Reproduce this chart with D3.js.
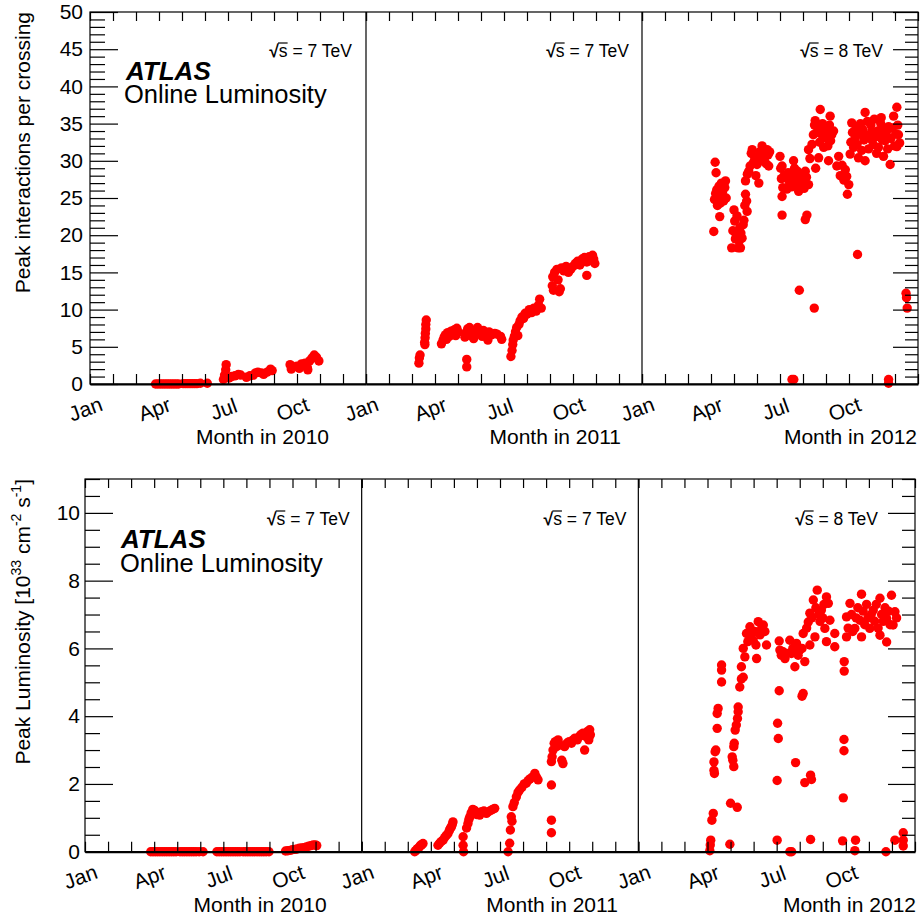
<!DOCTYPE html>
<html><head><meta charset="utf-8">
<script src="https://cdn.jsdelivr.net/npm/d3@7"></script>
<style>body{margin:0;background:#fff} svg{display:block} text{font-family:"Liberation Sans",Arial,Helvetica,sans-serif;fill:#000}</style>
</head><body><svg id="c" width="924" height="919"></svg>
<script>
const years = [2010, 2011, 2012];
const energies = ["7", "7", "8"];
const monthTickValues = d3.range(0, 13);
const monthLabelTicks = [0, 3, 6, 9];
const monthLabels = ["Jan", "Apr", "Jul", "Oct"];
const muTicks = [0, 5, 10, 15, 20, 25, 30, 35, 40, 45, 50];
const lumiTicks = [0, 2, 4, 6, 8, 10];

// [month (0 = Jan 1), peak interactions per crossing]
const mu2010 = [[2.85,0],[2.95,0],[3.05,0],[3.15,0],[3.25,0],[3.35,0],[3.45,0],[3.55,0],[3.65,0],[3.75,0],[3.85,0],[4.05,0.05],[4.15,0.05],[4.25,0.05],[4.35,0.05],[4.45,0.05],[4.55,0.05],[4.65,0.05],[4.8,0.1],[5.1,0.1],
[5.8,0.6],[5.85,1.2],[5.9,1.9],[5.92,2.6],[5.95,0.9],[6.05,0.8],[6.15,1.0],[6.3,1.1],[6.45,1.3],[6.55,1.2],[6.8,0.9],[6.95,1.1],[7.1,1.2],[7.2,1.5],[7.3,1.6],[7.45,1.5],[7.55,1.3],[7.7,1.6],[7.85,2.0],[7.92,1.8],
[8.7,2.6],[8.75,2.0],[8.85,2.3],[9.0,2.4],[9.1,2.1],[9.2,2.7],[9.35,2.8],[9.45,2.2],[9.47,1.9],[9.55,3.1],[9.65,3.5],[9.75,3.9],[9.85,3.6],[9.95,3.1]];
const mu2011 = [[2.3,2.8],[2.32,3.5],[2.35,3.9],
[2.55,5.6],[2.57,6.2],[2.58,6.8],[2.6,7.4],[2.6,8.0],[2.62,8.6],[2.56,5.3],
[3.28,5.4],[3.35,5.9],[3.4,6.3],[3.45,6.6],[3.5,6.0],[3.55,6.9],[3.62,6.4],[3.7,7.1],[3.78,6.7],[3.85,7.3],[3.9,6.5],[3.95,7.5],[4.0,7.0],
[4.3,6.3],[4.35,6.9],[4.42,7.4],[4.5,7.6],[4.55,6.5],[4.6,7.2],[4.68,6.1],[4.72,7.0],[4.38,3.3],[4.38,2.3],
[4.85,7.6],[4.95,6.8],[5.05,6.4],[5.1,7.2],[5.2,6.9],[5.3,5.9],[5.35,7.0],[5.45,6.6],[5.6,6.8],[5.7,6.7],[5.85,6.4],[5.9,6.0],
[6.3,3.7],[6.35,4.5],[6.38,5.3],[6.4,5.9],[6.45,6.4],[6.5,7.0],[6.55,7.6],[6.6,6.5],[6.65,8.0],[6.7,8.5],[6.78,9.0],[6.85,8.8],[6.92,9.5],[7.0,9.4],[7.1,10.0],[7.2,9.6],[7.3,10.2],[7.4,9.8],[7.5,10.6],[7.55,11.4],[7.62,10.2],
[8.1,13.2],[8.12,14.4],[8.15,12.6],[8.2,15.0],[8.3,15.4],[8.35,14.0],[8.4,12.4],[8.45,12.8],[8.5,15.6],[8.6,15.2],[8.7,15.8],[8.8,15.0],[8.9,15.4],[9.0,15.8],[9.1,16.2],[9.2,16.5],[9.3,16.0],[9.4,16.8],[9.5,17.0],[9.6,16.4],[9.7,17.1],[9.75,16.6],[9.85,17.3],[9.9,16.8],[9.95,16.2],[9.6,14.6]];
const mu2012 = [[3.12,20.5],[3.15,24.8],[3.18,29.8],[3.2,25.6],[3.22,28.4],[3.25,26.1],[3.28,24.0],[3.3,25.2],[3.35,26.6],[3.38,22.5],[3.4,24.3],[3.45,27.0],[3.5,25.8],[3.55,24.6],[3.6,26.4],[3.63,27.3],[3.66,25.0],
[3.9,18.3],[3.95,20.6],[4.0,23.4],[4.03,21.9],[4.06,19.5],[4.1,20.1],[4.13,22.6],[4.18,18.3],[4.22,19.2],[4.25,21.0],[4.28,18.3],[4.3,20.3],[4.35,19.6],[4.4,21.4],[4.43,22.0],[4.47,24.0],[4.5,25.5],[4.55,24.6],[4.57,23.2],
[4.5,27.3],[4.58,28.2],[4.64,28.6],[4.7,29.3],[4.75,31.0],[4.79,31.5],[4.85,29.8],[4.9,30.4],[4.95,28.0],[5.0,29.5],[5.05,30.6],[5.08,27.0],[5.12,31.2],[5.18,30.0],[5.22,32.0],[5.28,31.0],[5.35,30.5],[5.4,29.6],[5.44,31.5],[5.48,30.8],[5.51,29.3],[5.55,31.2],
[6.0,30.6],[6.03,29.0],[6.06,27.6],[6.09,29.3],[6.12,26.4],[6.18,28.0],[6.23,27.7],[6.3,26.2],[6.35,28.4],[6.42,27.0],[6.5,26.5],[6.55,28.0],[6.59,30.0],[6.63,29.0],[6.66,26.8],[6.72,27.4],[6.76,28.6],[6.81,25.9],[6.88,27.0],[6.93,28.2],[7.0,27.5],[7.05,26.3],[7.1,28.6],[7.15,27.8],[7.24,26.8],[6.09,25.2],[6.09,22.7],[7.1,22.1],[7.17,22.7],
[7.24,31.5],[7.3,30.3],[7.39,32.2],[7.45,33.5],[7.5,34.8],[7.53,35.4],[7.6,33.8],[7.68,34.5],[7.72,32.5],[7.75,36.9],[7.8,33.6],[7.85,35.0],[7.9,31.8],[7.97,33.1],[8.02,34.2],[8.08,32.0],[8.11,30.0],[8.15,34.8],[8.18,36.0],[8.2,32.7],[8.25,33.5],[8.33,34.0],[7.68,30.4],[7.55,29.0],
[8.47,29.3],[8.55,30.6],[8.62,28.0],[8.7,29.4],[8.78,27.4],[8.84,28.8],[8.9,27.9],[8.93,25.5],[8.99,26.8],
[9.05,30.9],[9.08,32.5],[9.12,35.1],[9.15,33.8],[9.2,31.8],[9.27,33.1],[9.3,34.6],[9.35,32.2],[9.41,30.4],[9.45,33.6],[9.5,35.0],[9.55,31.4],[9.6,34.2],[9.65,32.8],[9.7,36.5],[9.7,30.0],[9.75,33.4],[9.8,35.3],[9.85,31.6],[9.9,33.0],[9.95,34.8],[9.99,34.0],[10.05,32.2],[10.1,35.6],[10.15,33.2],[10.2,31.0],[10.25,34.0],[10.28,31.8],[10.32,33.5],[10.38,35.0],[10.4,35.8],[10.45,32.8],[10.5,30.6],[10.55,34.2],[10.57,32.7],[10.62,33.8],[10.68,31.6],[10.72,34.6],[10.79,29.5],[10.82,33.0],[10.88,34.4],[10.94,36.0],[10.98,32.0],[11.03,33.6],[11.08,37.2],[11.08,31.9],[11.12,34.8],[11.15,33.5],[11.2,32.4],
[9.37,17.4],[6.84,12.6],[7.49,10.2],[11.48,12.2],[11.5,11.6],[11.53,10.2],[6.52,0.6],[6.6,0.6],[10.72,0.6],[10.72,0.1]];

// [month, peak luminosity in 1e33 cm^-2 s^-1]
const lumi2010 = [[2.85,0],[2.95,0],[3.05,0],[3.15,0],[3.25,0],[3.35,0],[3.45,0],[3.55,0],[3.65,0],[3.75,0],[3.85,0],[3.95,0],[4.12,0],[4.22,0],[4.32,0],[4.42,0],[4.52,0],[4.62,0],[4.72,0],[4.82,0],[4.95,0],[5.12,0],
[5.72,0],[5.82,0],[5.92,0],[6.02,0],[6.12,0],[6.22,0],[6.32,0],[6.42,0],[6.52,0],[6.62,0],[6.72,0],[6.86,0],[6.96,0],[7.06,0],[7.16,0],[7.26,0],[7.36,0],[7.46,0],[7.56,0],[7.66,0],[7.76,0],[7.86,0],[7.98,0],
[8.7,0.02],[8.8,0.03],[8.9,0.04],[9.0,0.06],[9.1,0.07],[9.2,0.08],[9.3,0.1],[9.4,0.11],[9.5,0.12],[9.6,0.14],[9.7,0.16],[9.8,0.18],[9.9,0.2],[10.0,0.2],[10.05,0.18]];
const lumi2011 = [[2.3,0],[2.35,0.03],[2.4,0.08],[2.44,0.09],[2.5,0.14],[2.55,0.19],[2.59,0.19],[2.66,0.24],
[3.31,0.19],[3.38,0.25],[3.45,0.3],[3.53,0.34],[3.6,0.42],[3.67,0.48],[3.74,0.53],[3.8,0.62],[3.85,0.7],[3.89,0.73],[3.93,0.8],[3.96,0.88],
[4.4,0.44],[4.4,0.19],[4.42,0.0],
[4.55,0.7],[4.61,0.83],[4.65,0.95],[4.69,1.03],[4.75,1.15],[4.82,1.25],[4.9,1.22],[4.98,1.1],[5.05,1.15],[5.12,1.08],[5.2,1.18],[5.3,1.2],[5.41,1.13],[5.5,1.18],[5.6,1.22],[5.68,1.25],[5.77,1.28],
[6.35,0.0],[6.42,0.25],[6.45,0.64],[6.49,1.03],[6.52,0.9],[6.56,1.33],[6.62,1.45],[6.71,1.62],[6.78,1.75],[6.85,1.82],[6.95,1.9],[7.05,2.0],[7.14,2.02],[7.22,2.1],[7.3,2.15],[7.4,2.2],[7.51,2.31],[7.58,2.2],[7.65,2.12],
[8.23,1.97],[8.23,0.93],[8.23,0.56],
[8.23,2.66],[8.26,2.8],[8.3,3.0],[8.35,3.2],[8.4,3.25],[8.45,3.1],[8.52,3.3],[8.6,3.15],[8.68,2.7],[8.73,2.6],[8.8,3.1],[8.9,3.2],[9.0,3.25],[9.1,3.2],[9.17,3.3],[9.25,3.35],[9.35,3.3],[9.45,3.4],[9.5,3.45],[9.6,3.5],[9.67,3.0],[9.72,3.4],[9.8,3.55],[9.89,3.6],[9.92,3.45],[9.85,3.3]];
const lumi2012 = [[3.1,0.03],[3.12,0.2],[3.14,0.34],[3.19,0.93],[3.25,1.13],[3.28,2.4],[3.3,2.31],[3.28,2.65],[3.33,2.95],[3.36,3.0],[3.42,3.64],[3.42,4.08],[3.46,4.23],[3.61,5.51],[3.61,5.36],[3.61,5.01],
[3.97,0.22],[4.0,1.43],[4.29,1.31],[4.07,2.8],[4.1,2.7],[4.14,2.51],[4.14,3.1],[4.16,3.2],[4.2,3.59],[4.25,3.74],[4.3,3.93],[4.33,4.13],[4.33,4.27],[4.4,4.86],[4.47,5.1],[4.55,5.15],[4.47,5.46],
[4.55,6.0],[4.62,5.75],[4.69,6.44],[4.75,6.2],[4.84,6.64],[4.9,6.4],[4.98,6.24],[5.05,6.5],[5.13,5.7],[5.2,6.79],[5.28,6.4],[5.35,6.6],[5.42,6.69],[5.49,6.5],[5.56,6.1],[5.1,6.1],
[6.11,6.22],[6.14,5.95],[6.2,5.8],[6.28,5.9],[6.36,5.7],[6.45,5.85],[6.57,6.24],[6.64,5.85],[6.7,6.0],[6.79,5.46],[6.86,6.15],[6.93,5.8],[7.0,5.95],[7.1,6.0],[7.22,5.61],
[6.11,4.75],[7.15,4.67],[7.1,4.59],[6.04,3.79],[6.07,3.34],[6.02,2.1],[6.02,0.34],[6.57,0.0],[6.65,0.0],[6.82,2.63],[7.22,2.04],[7.47,2.26],[7.51,2.13],[7.47,0.36],
[7.15,6.44],[7.3,6.6],[7.37,6.78],[7.44,7.04],[7.44,6.1],[7.52,6.9],[7.59,7.43],[7.66,6.34],[7.7,7.2],[7.76,7.72],[7.82,7.0],[7.88,6.8],[7.94,7.13],[8.0,6.9],[8.05,7.3],[8.09,6.59],[8.16,7.52],[8.16,6.2],[8.24,7.33],[8.31,6.83],[8.52,6.44],[8.52,6.05],
[8.93,5.61],[8.93,5.33],[8.92,3.31],[8.92,2.98],[8.89,1.59],[8.86,0.32],[9.42,0.34],[9.39,0.03],
[9.03,6.34],[9.03,6.93],[9.1,6.6],[9.18,7.33],[9.25,7.0],[9.3,6.5],[9.39,6.59],[9.45,6.9],[9.52,7.2],[9.61,6.83],[9.68,7.6],[9.68,6.34],[9.75,7.1],[9.82,6.7],[9.9,7.3],[9.96,6.9],[10.04,6.59],[10.1,7.0],[10.19,7.13],[10.25,6.8],[10.32,7.3],[10.4,6.6],[10.48,7.48],[10.48,6.39],[10.55,7.0],[10.62,6.8],[10.7,7.2],[10.77,6.88],[10.77,6.19],[10.85,7.1],[10.92,6.7],[10.98,7.57],[11.05,6.69],[11.13,7.08],[11.2,6.9],
[10.74,0.0],[11.13,0.34],[11.49,0.56],[11.49,0.34],[11.49,0.17]];

const muData = [mu2010, mu2011, mu2012];
const lumiData = [lumi2010, lumi2011, lumi2012];

const svg = d3.select("#c");

const panels = [
  {data: muData, top: 12, bottom: 384, left: 90, right: 918, yMax: 50, major: muTicks, minorStep: 1,
   majLen: 28, minLen: 15, rMajLen: 25, rMinLen: 13, labPad: 7,
   monthOff: [-37, -21, -1], monthY: 444, srtY: 57, srtIn: [14, 13, 35],
   atlas: [126, 80], online: [124, 103], ytitle: "mu"},
  {data: lumiData, top: 479, bottom: 851.7, left: 85, right: 915, yMax: 11, major: lumiTicks, minorStep: 0.5,
   majLen: 28, minLen: 15, rMajLen: 27, rMinLen: 13, labPad: 5,
   monthOff: [-35, -20.5, 1], monthY: 912, srtY: 525, srtIn: [12, 12, 37],
   atlas: [121, 548], online: [120, 572], ytitle: "lumi"}
];

function sqrtLabel(g, xRight, yBase, energy) {
  const t = g.append("text").attr("x", xRight).attr("y", yBase)
    .attr("text-anchor", "end").style("font-size", "17.5px");
  t.append("tspan").style("font-weight", "bold").text("\u221A");
  t.append("tspan").text("s");
  t.append("tspan").text(" = " + energy + " TeV");
  const node = t.node();
  const bb = node.getBBox();
  const w0 = node.getSubStringLength(0, 1);
  const w1 = node.getSubStringLength(1, 1);
  const x0 = bb.x + w0 - 0.8;
  g.append("line").attr("x1", x0).attr("x2", x0 + w1 + 0.8)
    .attr("y1", yBase - 14).attr("y2", yBase - 14)
    .attr("stroke", "#000").attr("stroke-width", 1.2);
}

panels.forEach(P => {
  const g = svg.append("g");
  const y = d3.scaleLinear().domain([0, P.yMax]).range([P.bottom, P.top]);
  const w = (P.right - P.left) / 3;
  const minor = d3.range(0, P.yMax + 1e-9, P.minorStep).filter(v => !P.major.includes(v));

  // points
  years.forEach((yr, i) => {
    const x0 = P.left + i * w;
    const x = d3.scaleLinear().domain([0, 12]).range([x0, x0 + w]);
    g.append("g").selectAll("circle").data(P.data[i]).join("circle")
      .attr("cx", d => x(d[0])).attr("cy", d => y(d[1])).attr("r", 4.7)
      .attr("fill", "#ff0000");
  });

  // frame
  g.append("rect").attr("x", P.left).attr("y", P.top)
    .attr("width", P.right - P.left).attr("height", P.bottom - P.top)
    .attr("fill", "none").attr("stroke", "#000").attr("stroke-width", 1.2);

  years.forEach((yr, i) => {
    const x0 = P.left + i * w;
    const x = d3.scaleLinear().domain([0, 12]).range([x0, x0 + w]);
    if (i > 0) {
      g.append("line").attr("x1", x0).attr("x2", x0).attr("y1", P.top).attr("y2", P.bottom)
        .attr("stroke", "#000").attr("stroke-width", 1.2);
    }
    // bottom axis
    const ab = g.append("g").attr("transform", `translate(0,${P.bottom})`)
      .call(d3.axisBottom(x).tickValues(monthTickValues).tickSizeInner(-10).tickSizeOuter(0)
        .tickFormat(v => { const k = monthLabelTicks.indexOf(v); return k >= 0 ? monthLabels[k] : ""; }));
    ab.select(".domain").attr("stroke-width", 2.2);
    ab.selectAll(".tick line").attr("stroke-width", 1.2);
    ab.selectAll(".tick text").attr("y", 0).attr("dy", "0.35em")
      .attr("text-anchor", "middle").attr("transform", "translate(-5,25) rotate(-20)")
      .style("font-size", "21px").style("font-family", "Liberation Sans, Arial, sans-serif").attr("fill", "#000");
    // top axis
    const at = g.append("g").attr("transform", `translate(0,${P.top})`)
      .call(d3.axisTop(x).tickValues(monthTickValues).tickSizeInner(-9).tickSizeOuter(0).tickFormat(""));
    at.select(".domain").remove();
    at.selectAll(".tick line").attr("stroke-width", 1.2);

    // month title
    g.append("text").attr("x", x0 + w + P.monthOff[i]).attr("y", P.monthY)
      .attr("text-anchor", "end").style("font-size", "21px").text("Month in " + yr);
    // sqrt s label
    sqrtLabel(g, x0 + w - P.srtIn[i], P.srtY, energies[i]);
  });

  // left axis
  const al = g.append("g").attr("transform", `translate(${P.left},0)`)
    .call(d3.axisLeft(y).tickValues(P.major).tickSizeInner(-P.majLen).tickSizeOuter(0).tickPadding(P.labPad));
  al.select(".domain").remove();
  al.selectAll(".tick line").attr("stroke-width", 1.2);
  al.selectAll(".tick text").style("font-size", "21px").style("font-family", "Liberation Sans, Arial, sans-serif").attr("fill", "#000");
  const alm = g.append("g").attr("transform", `translate(${P.left},0)`)
    .call(d3.axisLeft(y).tickValues(minor).tickSizeInner(-P.minLen).tickSizeOuter(0).tickFormat(""));
  alm.select(".domain").remove();
  alm.selectAll(".tick line").attr("stroke-width", 1.2);

  // right axis
  const ar = g.append("g").attr("transform", `translate(${P.right},0)`)
    .call(d3.axisRight(y).tickValues(P.major).tickSizeInner(-P.rMajLen).tickSizeOuter(0).tickFormat(""));
  ar.select(".domain").remove();
  ar.selectAll(".tick line").attr("stroke-width", 1.2);
  const arm = g.append("g").attr("transform", `translate(${P.right},0)`)
    .call(d3.axisRight(y).tickValues(minor).tickSizeInner(-P.rMinLen).tickSizeOuter(0).tickFormat(""));
  arm.select(".domain").remove();
  arm.selectAll(".tick line").attr("stroke-width", 1.2);

  // y title
  const yt = g.append("text").attr("transform", `translate(30,${P.top}) rotate(-90)`)
    .attr("text-anchor", "end").style("font-size", "21px");
  if (P.ytitle === "mu") {
    yt.text("Peak interactions per crossing");
  } else {
    yt.append("tspan").text("Peak Luminosity [10");
    yt.append("tspan").attr("dy", -9).style("font-size", "14px").text("33");
    yt.append("tspan").attr("dy", 9).text(" cm");
    yt.append("tspan").attr("dy", -9).style("font-size", "14px").text("-2");
    yt.append("tspan").attr("dy", 9).text(" s");
    yt.append("tspan").attr("dy", -9).style("font-size", "14px").text("-1");
    yt.append("tspan").attr("dy", 9).text("]");
  }

  // ATLAS label (two-line block)
  const lab = g.append("text").attr("x", P.atlas[0]).attr("y", P.atlas[1]);
  lab.append("tspan").style("font-size", "26px").style("font-weight", "bold").style("font-style", "italic").text("ATLAS");
  lab.append("tspan").attr("x", P.online[0]).attr("y", P.online[1])
    .style("font-size", "25.5px").text("Online Luminosity");
});
</script>
</body></html>
